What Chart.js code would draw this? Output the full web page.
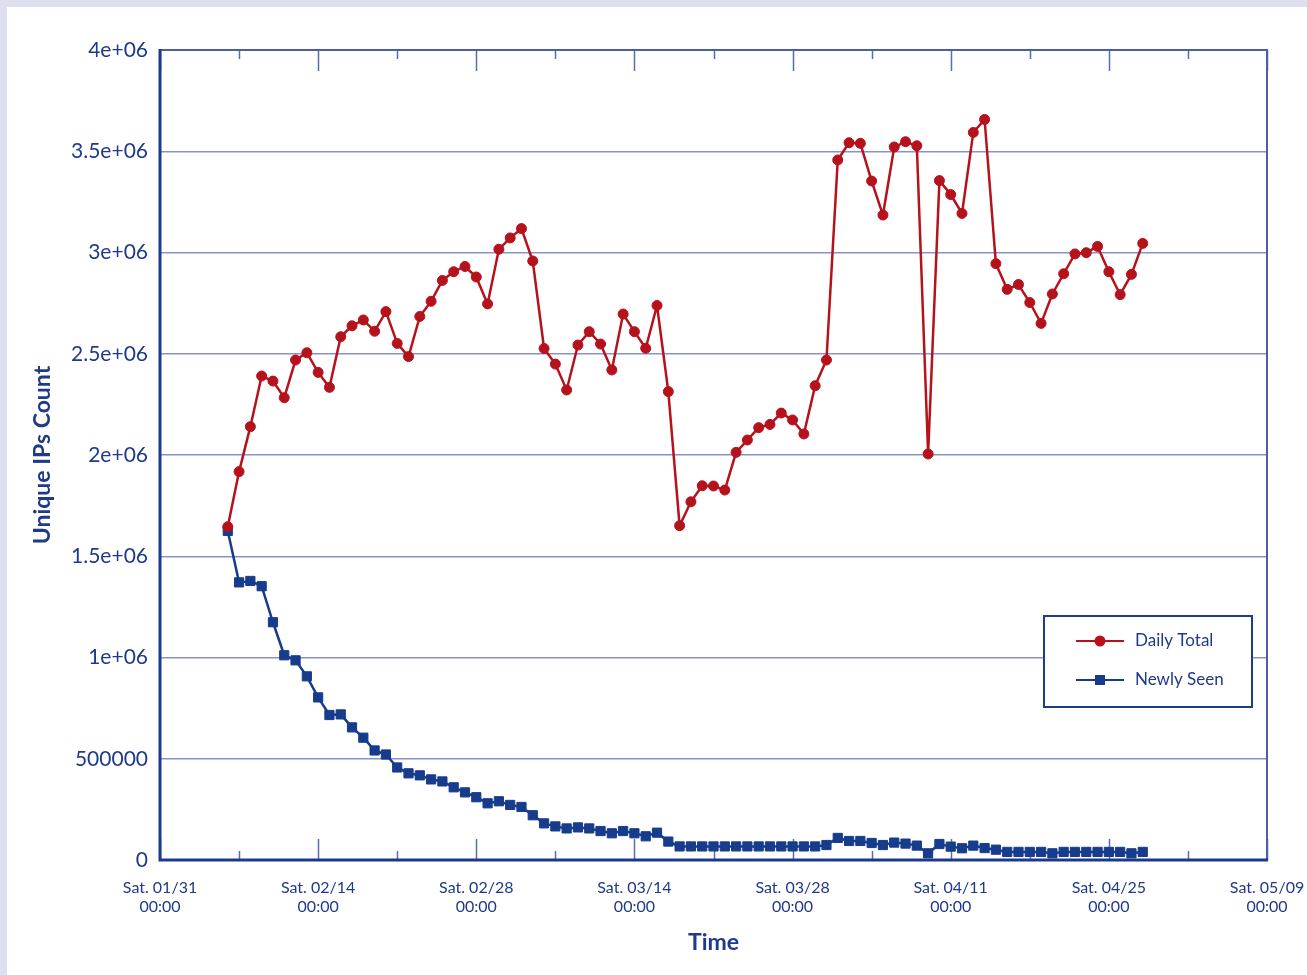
<!DOCTYPE html>
<html>
<head>
<meta charset="utf-8">
<title>Unique IPs Count</title>
<script src="https://cdn.jsdelivr.net/npm/chart.js@4"></script>
<style>
  html, body { margin: 0; padding: 0; }
  body { background: #dfe0ef; width: 1307px; height: 975px; overflow: hidden; }
  #wrap { position: absolute; left: 7px; top: 7px; width: 1300px; height: 968px; background: #fff; }
</style>
</head>
<body>
<div id="wrap"><canvas id="myChart"></canvas></div>
<script>
// day 0 = Sat 01/31, first sample on 02/06
const firstDay = 6;

const dailyTotal = [
  1646000, 1918000, 2140000, 2390000, 2365000, 2283000, 2469000, 2505000, 2408000, 2334000,
  2584000, 2638000, 2667000, 2611000, 2708000, 2551000, 2486000, 2684000, 2759000, 2862000,
  2905000, 2931000, 2879000, 2746000, 3016000, 3072000, 3118000, 2958000, 2526000, 2449000,
  2321000, 2543000, 2609000, 2548000, 2420000, 2696000, 2609000, 2527000, 2738000, 2313000,
  1651000, 1769000, 1848000, 1847000, 1827000, 2013000, 2074000, 2135000, 2151000, 2207000,
  2173000, 2104000, 2342000, 2469000, 3457000, 3542000, 3539000, 3353000, 3185000, 3521000,
  3547000, 3527000, 2005000, 3355000, 3286000, 3193000, 3593000, 3657000, 2945000, 2818000,
  2842000, 2753000, 2650000, 2795000, 2895000, 2993000, 2999000, 3030000, 2905000, 2792000,
  2892000, 3045000
];

const newlySeen = [
  1625000, 1371000, 1378000, 1352000, 1174000, 1011000, 986000, 907000, 803000, 716000,
  719000, 655000, 604000, 541000, 521000, 457000, 428000, 418000, 398000, 388000,
  359000, 334000, 310000, 280000, 290000, 272000, 262000, 221000, 181000, 166000,
  156000, 161000, 156000, 143000, 132000, 143000, 132000, 117000, 135000, 91000,
  67000, 67000, 67000, 67000, 67000, 67000, 67000, 67000, 67000, 67000,
  67000, 67000, 67000, 74000, 109000, 94000, 94000, 84000, 74000, 86000,
  81000, 71000, 33000, 79000, 66000, 58000, 71000, 59000, 51000, 40000,
  40000, 40000, 40000, 33000, 40000, 40000, 40000, 40000, 40000, 40000,
  33000, 40000
];

const xTickLabels = [
  ["Sat. 01/31", "00:00"], ["Sat. 02/14", "00:00"], ["Sat. 02/28", "00:00"], ["Sat. 03/14", "00:00"],
  ["Sat. 03/28", "00:00"], ["Sat. 04/11", "00:00"], ["Sat. 04/25", "00:00"], ["Sat. 05/09", "00:00"]
];
const yTickLabels = ["0", "500000", "1e+06", "1.5e+06", "2e+06", "2.5e+06", "3e+06", "3.5e+06", "4e+06"];

const TEXT = "#1f3a8a";
const RED = "#b5121b";
const BLUE = "#173c8c";
const FONT = "Lato";

function toPoints(arr) {
  return arr.map((v, i) => ({ x: firstDay + i, y: v }));
}

// weekly tick marks + plot frame
const framePlugin = {
  id: "frame",
  beforeDatasetsDraw(chart) {
    const { ctx, chartArea: a, scales: { x } } = chart;
    ctx.save();
    ctx.strokeStyle = "#5a6cb0";
    ctx.lineWidth = 1.5;
    for (let d = 0; d <= 98; d += 7) {
      const px = Math.round(x.getPixelForValue(d)) + 0.5;
      const len = d % 14 === 0 ? 21 : 9;
      ctx.beginPath();
      ctx.moveTo(px, a.bottom);
      ctx.lineTo(px, a.bottom - len);
      ctx.moveTo(px, a.top);
      ctx.lineTo(px, a.top + len);
      ctx.stroke();
    }
    // thin top / right
    ctx.strokeStyle = "#4a5fa8";
    ctx.lineWidth = 2;
    ctx.beginPath();
    ctx.moveTo(a.left, a.top);
    ctx.lineTo(a.right, a.top);
    ctx.lineTo(a.right, a.bottom);
    ctx.stroke();
    // heavy left / bottom
    ctx.strokeStyle = "#1b3a8c";
    ctx.lineWidth = 3;
    ctx.beginPath();
    ctx.moveTo(a.left, a.top - 1);
    ctx.lineTo(a.left, a.bottom);
    ctx.lineTo(a.right + 1, a.bottom);
    ctx.stroke();
    ctx.restore();
  }
};

// boxed legend inside the plot
const legendPlugin = {
  id: "boxLegend",
  afterDraw(chart) {
    const ctx = chart.ctx;
    const bx = 1037, by = 609, bw = 208, bh = 91;
    ctx.save();
    ctx.fillStyle = "#fff";
    ctx.fillRect(bx, by, bw, bh);
    ctx.strokeStyle = "#1e3c8e";
    ctx.lineWidth = 2;
    ctx.strokeRect(bx, by, bw, bh);
    chart.data.datasets.forEach((ds, i) => {
      const y = by + 25 + i * 39;
      ctx.strokeStyle = ds.borderColor;
      ctx.lineWidth = 2;
      ctx.beginPath();
      ctx.moveTo(bx + 32, y);
      ctx.lineTo(bx + 80, y);
      ctx.stroke();
      ctx.fillStyle = ds.borderColor;
      if (ds.pointStyle === "rect") {
        ctx.fillRect(bx + 51, y - 5, 10, 10);
      } else {
        ctx.beginPath();
        ctx.arc(bx + 56, y, 5.5, 0, Math.PI * 2);
        ctx.fill();
      }
      ctx.fillStyle = TEXT;
      ctx.font = "17px " + FONT;
      ctx.textBaseline = "middle";
      ctx.fillText(ds.label, bx + 91, y);
    });
    ctx.restore();
  }
};

const ctx = document.getElementById("myChart").getContext("2d");
const chart = new Chart(ctx, {
  type: "line",
  data: {
    datasets: [
      {
        label: "Daily Total",
        data: toPoints(dailyTotal),
        borderColor: RED,
        backgroundColor: RED,
        borderWidth: 2.5,
        pointStyle: "circle",
        pointRadius: 5,
        pointBorderWidth: 1,
        tension: 0
      },
      {
        label: "Newly Seen",
        data: toPoints(newlySeen),
        borderColor: BLUE,
        backgroundColor: BLUE,
        borderWidth: 2.5,
        pointStyle: "rect",
        pointRadius: 6.5,
        pointBorderWidth: 1,
        tension: 0
      }
    ]
  },
  options: {
    responsive: true,
    maintainAspectRatio: false,
    animation: false,
    layout: { padding: { left: 14, right: 40, top: 43, bottom: 11 } },
    plugins: {
      legend: { display: false },
      tooltip: { enabled: false }
    },
    scales: {
      x: {
        type: "linear",
        min: 0,
        max: 98,
        grid: { display: false, drawTicks: false },
        border: { display: false },
        ticks: {
          stepSize: 14,
          autoSkip: false,
          maxRotation: 0,
          padding: 18,
          color: TEXT,
          font: { family: FONT, size: 16, lineHeight: 1.2 },
          callback: v => xTickLabels[v / 14]
        },
        title: {
          display: true,
          text: "Time",
          color: TEXT,
          font: { family: FONT, size: 23, weight: "bold" },
          padding: { top: 0, bottom: 8 }
        },
        afterFit: s => { s.height = 104; s.paddingLeft = 0; s.paddingRight = 0; }
      },
      y: {
        min: 0,
        max: 4000000,
        grid: { color: "#8a92c8", lineWidth: 1.5, drawTicks: false },
        border: { display: false },
        ticks: {
          stepSize: 500000,
          padding: 12,
          color: TEXT,
          font: { family: FONT, size: 21 },
          callback: v => yTickLabels[v / 500000]
        },
        title: {
          display: true,
          text: "Unique IPs Count",
          color: TEXT,
          font: { family: FONT, size: 23, weight: "bold" },
          padding: { top: 8, bottom: 0 }
        },
        afterFit: s => { s.width = 139; s.paddingTop = 0; s.paddingBottom = 0; }
      }
    }
  },
  plugins: [framePlugin, legendPlugin]
});
</script>
</body>
</html>
